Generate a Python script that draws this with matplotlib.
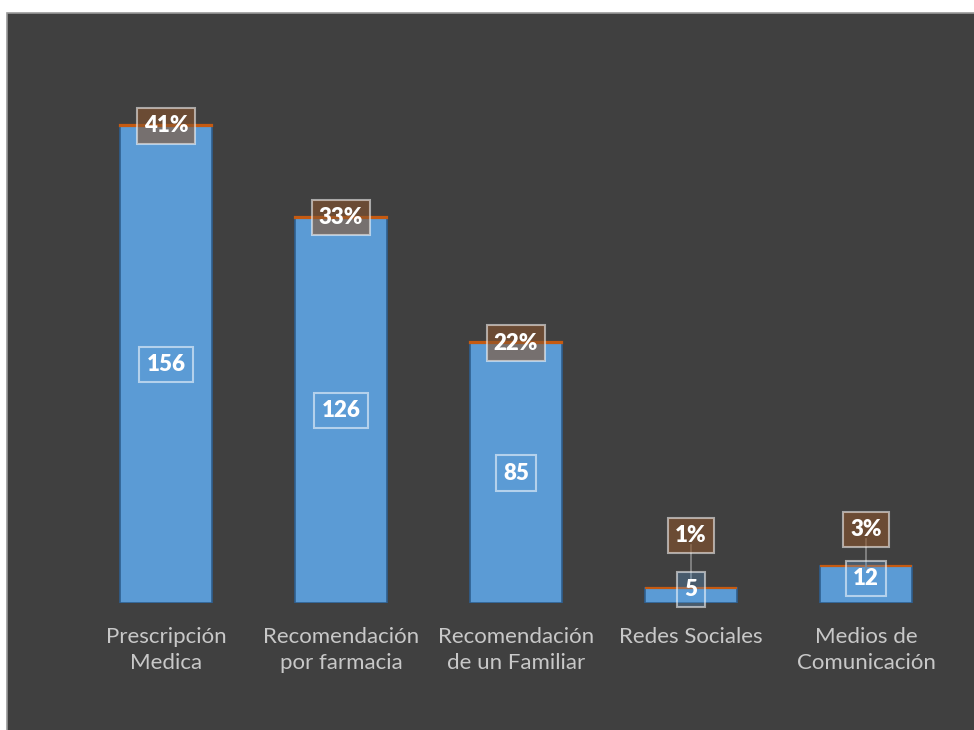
import matplotlib.pyplot as plt
import matplotlib.patches as patches

# survey: how people found the product
categories = ["Prescripción\nMedica", "Recomendación\npor farmacia", "Recomendación\nde un Familiar",
              "Redes Sociales", "Medios de\nComunicación"]
counts = [156, 126, 85, 5, 12]
shares = [0.41, 0.33, 0.22, 0.01, 0.03]

bg = "#404040"
blue = "#5B9BD5"
orange = "#C55A11"

plt.rcParams['font.family'] = ['Lato', 'DejaVu Sans']

fig = plt.figure(figsize=(9.74, 7.30), dpi=100, facecolor="white")
# dark chart panel with a thin gray frame on the left/top
panel = patches.Rectangle((7 / 974, -0.01), 1.0, (730 - 13) / 730 + 0.01, transform=fig.transFigure,
                          facecolor=bg, edgecolor="#9a9a9a", linewidth=1.2, zorder=-10)
fig.patches.append(panel)

ax = fig.add_axes([78.5 / 974, 127 / 730, 875 / 974, 550.4 / 730])
ax.set_zorder(1)
ax.set_facecolor("none")
x = list(range(len(categories)))

ax.bar(x, counts, width=0.53, color=blue, edgecolor="#2F5F8F", linewidth=1.2, zorder=2)
ax.bar(x, shares, bottom=counts, width=0.53, color=orange, edgecolor=orange, linewidth=1.6, zorder=3)

ax.set_xlim(-0.5, 4.5)
ax.set_ylim(0, 180)
for s in ax.spines.values():
    s.set_visible(False)
ax.set_yticks([])
ax.set_xticks(x)
ax.set_xticklabels(categories, color="#C8C8C8", fontsize=16, linespacing=1.38)
ax.tick_params(axis="x", length=0, pad=17)

count_box = dict(boxstyle="square,pad=0.32", facecolor=(91 / 255, 155 / 255, 213 / 255, 0.3),
                 edgecolor=(1, 1, 1, 0.55), linewidth=1.5)
share_box = dict(boxstyle="square,pad=0.32", facecolor=(137 / 255, 84 / 255, 44 / 255, 0.6),
                 edgecolor=(1, 1, 1, 0.55), linewidth=1.5)

for i, (c, p) in enumerate(zip(counts, shares)):
    cy = c / 2 if c > 20 else c / 2 + 2
    ax.text(i, cy, str(c), ha="center", va="center", color="white", fontsize=16,
            fontweight="heavy", bbox=count_box, zorder=5)
    label = "{:.0%}".format(p)
    if c > 20:
        ax.text(i, c, label, ha="center", va="center", color="white", fontsize=16,
                fontweight="heavy", bbox=share_box, zorder=5)
    else:
        ly = 22 if c < 8 else 24
        ax.plot([i, i], [cy + 3, ly - 3], color="#8a8a8a", linewidth=1.2, zorder=4)
        ax.text(i, ly, label, ha="center", va="center", color="white", fontsize=16,
                fontweight="heavy", bbox=share_box, zorder=5)

fig.savefig("out.png", dpi=100, facecolor=fig.get_facecolor())
